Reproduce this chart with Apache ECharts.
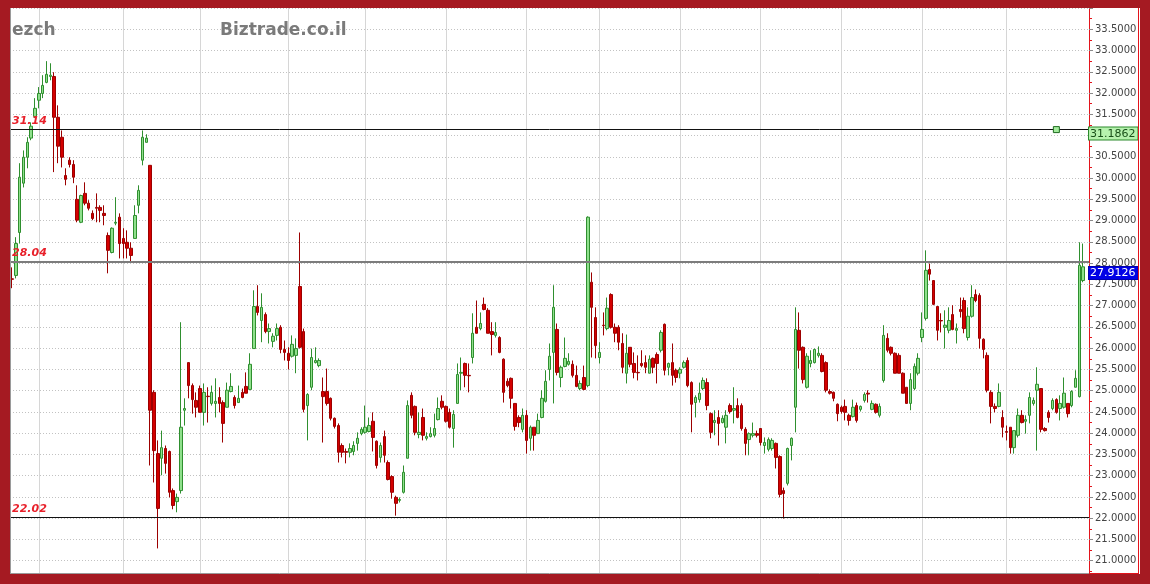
<!DOCTYPE html>
<html>
<head>
<meta charset="utf-8">
<title>ezch</title>
<script src="https://cdn.jsdelivr.net/npm/echarts@6/dist/echarts.min.js"></script>
<style>
html, body { margin: 0; padding: 0; background: #fff; }
#chart { width: 1150px; height: 584px; }
</style>
</head>
<body>
<div id="chart"></div>
<script>
// daily candles
var opens = [
	27.63, 27.71, 28.72, 29.88, 30.49, 30.94, 31.45, 31.83, 31.99, 32.25,
	32.39, 32.39, 31.43, 30.96, 30.06, 30.42, 30.32, 29.50, 28.96, 29.64,
	29.41, 29.17, 29.31, 29.31, 29.17, 28.65, 28.25, 28.94, 29.08, 28.58,
	28.49, 28.35, 28.58, 29.36, 30.42, 30.84, 30.30, 24.96, 23.52, 23.41,
	23.64, 23.57, 22.65, 22.39, 22.65, 24.54, 25.66, 25.12, 24.77, 25.05,
	24.49, 24.87, 24.70, 24.70, 24.84, 24.72, 24.61, 24.98, 24.84, 24.72,
	24.96, 25.10, 25.03, 25.99, 26.98, 26.65, 26.79, 26.39, 26.16, 26.30,
	26.49, 25.97, 25.88, 25.81, 25.83, 27.45, 26.39, 24.65, 25.08, 25.66,
	25.59, 24.98, 24.98, 24.82, 24.35, 24.18, 23.71, 23.57, 23.55, 23.57,
	23.76, 23.99, 24.02, 24.04, 24.28, 23.81, 23.43, 23.92, 23.31, 22.98,
	22.49, 22.42, 22.61, 23.41, 24.89, 24.63, 23.97, 24.37, 23.88, 23.92,
	23.95, 24.32, 24.75, 24.63, 24.49, 24.11, 24.70, 25.41, 25.64, 25.36,
	25.78, 26.49, 26.46, 27.03, 26.89, 26.39, 26.30, 26.25, 25.74, 25.22,
	25.29, 24.70, 24.37, 24.09, 24.42, 23.88, 24.14, 23.99, 24.37, 24.75,
	25.50, 25.90, 26.44, 25.31, 25.57, 25.62, 25.62, 25.36, 25.05, 25.31,
	25.12, 27.55, 26.72, 25.78, 26.54, 26.46, 27.26, 26.49, 26.49, 26.11,
	25.41, 26.02, 25.64, 25.43, 25.64, 25.66, 25.41, 25.76, 25.85, 25.95,
	26.56, 25.55, 25.66, 25.48, 25.41, 25.55, 25.71, 25.19, 24.72, 24.79,
	25.05, 25.19, 24.46, 24.25, 24.37, 24.25, 24.14, 24.65, 24.54, 24.65,
	24.65, 24.09, 23.85, 23.95, 23.99, 24.11, 23.71, 23.62, 23.64, 23.76,
	23.45, 22.65, 22.82, 23.71, 24.61, 26.42, 26.02, 25.08, 25.64, 25.66,
	25.83, 25.83, 25.66, 24.98, 24.96, 24.68, 24.61, 24.63, 24.42, 24.39,
	24.65, 24.56, 24.77, 24.94, 24.56, 24.68, 24.42, 25.24, 26.23, 26.02,
	25.88, 25.83, 25.41, 25.08, 24.70, 25.05, 25.41, 26.25, 26.70, 27.85,
	27.59, 26.98, 26.65, 26.49, 26.42, 26.79, 26.42, 26.91, 27.12, 26.25,
	26.75, 27.26, 27.24, 26.21, 25.83, 24.96, 24.63, 24.63, 24.37, 24.04,
	24.14, 23.66, 23.95, 24.42, 24.28, 24.42, 24.70, 25.01, 25.05, 24.11,
	24.49, 24.58, 24.79, 24.58, 24.61, 24.70, 24.65, 25.08, 24.86, 27.59
];
var closes = [
	27.62, 28.46, 30.02, 30.49, 30.84, 31.22, 31.64, 31.99, 32.18, 32.44,
	32.42, 31.43, 30.75, 30.49, 29.97, 30.32, 30.02, 29.01, 29.59, 29.41,
	29.29, 29.05, 29.29, 29.24, 29.12, 28.30, 28.82, 28.96, 28.46, 28.46,
	28.35, 28.18, 29.12, 29.71, 30.96, 30.94, 24.54, 23.59, 22.23, 23.66,
	23.29, 22.61, 22.30, 22.49, 24.14, 24.58, 25.12, 24.79, 24.61, 24.49,
	24.96, 24.86, 24.96, 24.75, 24.70, 24.23, 25.01, 25.10, 24.65, 24.82,
	24.84, 24.94, 25.62, 26.98, 26.84, 26.96, 26.39, 26.46, 26.28, 26.46,
	25.97, 25.90, 25.71, 26.09, 25.99, 26.02, 24.56, 24.91, 25.78, 25.71,
	25.71, 24.86, 24.70, 24.35, 24.16, 23.55, 23.55, 23.55, 23.64, 23.71,
	23.88, 24.09, 24.14, 24.18, 23.90, 23.24, 23.71, 23.48, 22.91, 22.61,
	22.35, 22.44, 23.08, 24.65, 24.42, 24.02, 24.02, 23.95, 23.92, 23.99,
	24.11, 24.58, 24.61, 24.28, 24.14, 24.44, 25.38, 25.43, 25.36, 25.35,
	26.35, 26.35, 26.58, 26.91, 26.35, 26.32, 26.37, 25.90, 24.96, 25.12,
	24.82, 24.16, 24.25, 24.42, 23.83, 24.14, 23.95, 24.30, 24.82, 25.22,
	25.81, 26.96, 25.43, 25.55, 25.76, 25.69, 25.36, 25.10, 25.17, 25.03,
	29.08, 26.96, 26.06, 25.90, 26.53, 26.94, 26.49, 26.35, 26.14, 25.55,
	25.88, 25.62, 25.43, 25.42, 25.59, 25.55, 25.74, 25.55, 25.64, 26.37,
	25.48, 25.64, 25.36, 25.31, 25.50, 25.66, 25.12, 24.68, 24.84, 24.94,
	25.24, 24.65, 24.02, 24.30, 24.23, 24.35, 24.42, 24.51, 24.58, 24.37,
	24.11, 23.76, 23.99, 23.99, 23.95, 23.78, 23.78, 23.85, 23.83, 23.43,
	22.56, 22.58, 23.64, 23.88, 26.44, 25.95, 25.26, 25.81, 25.71, 25.97,
	25.88, 25.45, 25.01, 24.94, 24.82, 24.46, 24.51, 24.49, 24.30, 24.61,
	24.30, 24.63, 24.91, 24.92, 24.70, 24.49, 24.63, 26.30, 25.95, 25.88,
	25.41, 25.41, 24.94, 24.70, 25.26, 25.57, 25.76, 26.44, 27.83, 27.74,
	27.03, 26.42, 26.64, 26.54, 26.65, 26.44, 26.46, 26.86, 26.46, 26.75,
	27.19, 27.12, 26.23, 25.97, 25.01, 24.63, 24.58, 24.96, 24.14, 24.02,
	23.66, 24.06, 24.42, 24.25, 24.32, 24.84, 24.77, 25.15, 24.09, 24.06,
	24.37, 24.77, 24.49, 24.70, 24.94, 24.46, 24.98, 25.29, 27.95, 27.9126
];
var lows = [
	27.41, 27.64, 28.46, 29.78, 30.23, 30.89, 31.41, 31.64, 31.88, 32.23,
	32.30, 30.14, 30.35, 30.25, 29.83, 30.25, 29.88, 28.96, 28.94, 29.36,
	29.24, 29.01, 28.96, 28.96, 28.89, 27.76, 28.23, 28.89, 28.11, 28.11,
	28.11, 28.02, 28.58, 29.17, 30.30, 30.84, 23.24, 22.84, 21.29, 23.01,
	23.05, 22.49, 22.21, 22.14, 22.58, 24.18, 24.82, 24.46, 24.37, 24.49,
	24.18, 24.25, 24.65, 24.37, 24.49, 23.78, 24.61, 24.96, 24.58, 24.72,
	24.82, 24.94, 25.01, 25.99, 26.77, 26.14, 26.35, 26.11, 26.02, 26.18,
	25.88, 25.71, 25.50, 25.78, 25.41, 25.99, 24.49, 23.83, 25.01, 25.64,
	25.55, 23.78, 24.65, 24.30, 24.11, 23.31, 23.43, 23.29, 23.43, 23.48,
	23.59, 23.95, 23.99, 24.02, 23.57, 23.17, 23.31, 23.31, 22.89, 22.46,
	22.06, 22.37, 22.58, 23.41, 24.35, 23.95, 23.88, 23.83, 23.83, 23.90,
	23.90, 24.30, 24.56, 24.25, 24.11, 23.66, 24.70, 25.01, 25.08, 24.96,
	25.64, 26.35, 26.42, 26.89, 26.35, 25.83, 26.25, 25.88, 24.72, 25.08,
	24.58, 24.06, 24.14, 24.02, 23.52, 23.59, 23.59, 23.99, 24.35, 24.72,
	25.24, 24.70, 25.36, 25.08, 25.55, 25.59, 25.31, 25.08, 25.01, 25.01,
	25.08, 25.78, 25.76, 25.64, 26.30, 26.42, 26.46, 26.14, 25.95, 25.41,
	25.17, 25.55, 25.29, 25.24, 25.55, 25.41, 25.41, 25.41, 25.17, 25.90,
	25.36, 25.36, 25.12, 25.19, 25.29, 25.52, 25.08, 24.02, 24.37, 24.72,
	25.01, 24.54, 23.88, 23.95, 23.71, 24.23, 23.76, 24.46, 24.23, 24.35,
	24.06, 23.48, 23.48, 23.90, 23.90, 23.71, 23.52, 23.57, 23.59, 23.17,
	22.49, 21.99, 22.77, 23.36, 24.02, 25.52, 25.17, 25.05, 25.55, 25.64,
	25.78, 25.43, 24.96, 24.91, 24.75, 24.28, 24.46, 24.30, 24.18, 24.37,
	24.25, 24.51, 24.72, 24.72, 24.54, 24.46, 24.37, 25.19, 25.90, 25.83,
	25.41, 25.41, 24.94, 24.70, 24.54, 25.01, 25.36, 26.14, 26.65, 27.59,
	27.01, 26.18, 26.37, 25.99, 26.35, 26.42, 26.11, 26.72, 26.35, 26.18,
	26.72, 27.08, 25.99, 25.76, 24.96, 24.23, 24.49, 24.61, 23.90, 23.83,
	23.52, 23.52, 23.90, 24.23, 23.99, 24.23, 24.65, 23.59, 24.02, 24.04,
	24.25, 24.54, 24.46, 24.30, 24.58, 24.37, 24.61, 25.08, 24.84, 27.55
];
var highs = [
	27.90, 28.61, 30.35, 30.65, 30.96, 31.31, 31.88, 32.14, 32.42, 32.75,
	32.70, 32.49, 31.71, 31.12, 30.23, 30.49, 30.42, 29.83, 29.61, 29.90,
	29.48, 29.24, 29.64, 29.36, 29.36, 28.72, 28.84, 29.55, 29.17, 28.82,
	28.77, 28.49, 29.36, 29.83, 31.12, 31.03, 30.30, 25.01, 23.83, 24.06,
	23.71, 23.59, 22.70, 22.58, 26.61, 24.82, 25.66, 25.17, 24.96, 25.12,
	25.17, 25.08, 25.12, 25.29, 25.08, 24.77, 25.19, 25.41, 24.89, 25.12,
	25.05, 25.43, 25.88, 27.36, 27.48, 27.29, 26.84, 26.58, 26.35, 26.58,
	26.54, 26.18, 26.02, 26.30, 26.23, 28.72, 26.46, 24.94, 25.99, 26.02,
	25.76, 25.31, 25.52, 24.84, 24.37, 24.23, 23.76, 23.64, 23.76, 23.81,
	24.02, 24.14, 24.65, 24.37, 24.49, 23.83, 23.78, 24.06, 23.36, 23.01,
	22.53, 22.49, 23.24, 24.77, 24.96, 24.65, 24.49, 24.58, 24.02, 24.14,
	24.46, 24.84, 24.89, 24.65, 24.58, 24.54, 25.64, 25.78, 25.66, 25.64,
	26.82, 27.12, 26.84, 27.19, 26.94, 26.61, 26.61, 26.28, 25.76, 25.29,
	25.31, 24.70, 24.42, 24.58, 24.54, 24.18, 24.14, 24.46, 25.01, 25.48,
	26.11, 27.48, 26.58, 25.59, 26.25, 25.88, 25.71, 25.59, 25.24, 25.59,
	29.10, 27.78, 26.96, 26.14, 26.84, 27.19, 27.29, 26.58, 26.54, 26.35,
	26.32, 26.02, 25.90, 25.83, 25.95, 25.83, 25.83, 25.78, 25.90, 26.42,
	26.58, 25.66, 26.11, 25.52, 25.55, 25.71, 25.78, 25.22, 24.89, 25.19,
	25.31, 25.29, 24.49, 24.54, 24.54, 24.42, 24.54, 24.70, 25.08, 24.82,
	24.70, 24.14, 24.02, 24.25, 24.06, 24.11, 23.90, 23.90, 23.88, 23.78,
	23.48, 22.72, 23.66, 23.90, 26.96, 26.84, 26.04, 25.88, 25.95, 25.99,
	26.04, 25.88, 25.69, 25.03, 24.98, 24.70, 24.65, 24.79, 24.46, 24.79,
	24.72, 24.65, 24.96, 25.01, 24.77, 24.70, 24.70, 26.54, 26.35, 26.04,
	25.90, 25.88, 25.43, 25.08, 25.41, 25.64, 25.88, 26.84, 28.30, 27.99,
	27.59, 26.98, 26.82, 26.89, 26.96, 27.01, 26.58, 27.19, 27.19, 26.96,
	27.48, 27.38, 27.29, 26.23, 25.90, 25.01, 24.70, 25.17, 24.54, 24.18,
	24.14, 24.06, 24.58, 24.54, 24.42, 24.96, 24.84, 25.55, 25.05, 24.14,
	24.54, 24.82, 24.82, 24.89, 25.31, 24.70, 25.01, 25.48, 28.49, 28.46
];

// index of the first candle of each month (vertical grid lines)
var monthStarts = [7, 29, 49, 72, 92, 113, 134, 153, 174, 195, 216, 237, 259];

// horizontal levels drawn on the chart
var levelHigh = 31.14;
var levelMid = 28.04;
var levelLow = 22.02;
var markerValue = 31.1862;
var markerIndex = 272;
var lastPrice = 27.9126;

// one empty slot at the end, as in the original chart
var categories = opens.map(function (o, i) { return String(i + 1); });
categories.push('');

var FRAME = '#a51a22';
var AXISRED = '#e3141c';

var candles = opens.map(function (o, i) {
	return [o, closes[i], lows[i], highs[i]];
});

function levelLine(v, color, width) {
	return {
		yAxis: v,
		lineStyle: { color: color, width: width, type: 'solid' },
		label: {
			show: true,
			position: 'insideStartTop',
			formatter: v.toFixed(2),
			color: '#e8202a',
			fontStyle: 'italic',
			fontWeight: 'bold',
			fontSize: 11,
			fontFamily: 'DejaVu Sans',
			distance: [2, 3]
		}
	};
}

function priceTag(v, bg, border, fg) {
	return {
		yAxis: v,
		lineStyle: { color: 'rgba(0,0,0,0)', width: 1 },
		label: {
			show: true,
			position: 'end',
			distance: 0,
			formatter: v.toFixed(4),
			backgroundColor: bg,
			borderColor: border,
			borderWidth: 1,
			color: fg,
			fontSize: 11,
			fontFamily: 'DejaVu Sans',
			padding: [1, 2, 0, 1],
			verticalAlign: 'top'
		}
	};
}

var myChart = echarts.init(document.getElementById('chart'));

var option = {
	animation: false,
	backgroundColor: '#ffffff',
	title: [
		{ text: 'ezch', left: 12, top: 22, padding: 0,
			textStyle: { color: '#7a7a7a', fontSize: 17, fontWeight: 'bold', fontFamily: 'DejaVu Sans' } },
		{ text: 'Biztrade.co.il', left: 220, top: 22, padding: 0,
			textStyle: { color: '#7a7a7a', fontSize: 17, fontWeight: 'bold', fontFamily: 'DejaVu Sans' } }
	],
	grid: { left: 10, right: 61, top: 8, bottom: 2 },
	xAxis: {
		type: 'category',
		data: categories,
		boundaryGap: true,
		axisLine: { show: false },
		axisTick: { show: false },
		axisLabel: { show: false },
		splitLine: {
			show: true,
			alignWithLabel: true,
			interval: function (i) { return monthStarts.indexOf(i) >= 0; },
			lineStyle: { color: '#d6d6d6', width: 1 }
		}
	},
	yAxis: {
		type: 'value',
		position: 'right',
		min: 20.5,
		max: 34,
		interval: 0.5,
		axisLine: { show: true, lineStyle: { color: AXISRED, width: 1 } },
		axisTick: { show: true, length: 4, lineStyle: { color: '#8a8a8a' } },
		minorTick: { show: true, splitNumber: 2, length: 3, lineStyle: { color: AXISRED } },
		axisLabel: {
			margin: 6,
			color: '#444',
			fontSize: 10,
			fontFamily: 'DejaVu Sans',
			formatter: function (v) {
				if (v < 20.9 || v > 33.6) return '';
				return v.toFixed(4);
			}
		},
		splitLine: { show: true, lineStyle: { color: '#c2c2c2', type: [1, 2] } }
	},
	series: [{
		type: 'candlestick',
		data: candles,
		barWidth: 3,
		itemStyle: {
			color: '#8fe08c',
			color0: '#d40000',
			borderColor: '#2f8f2f',
			borderColor0: '#9c0000',
			borderWidth: 1
		},
		markLine: {
			symbol: 'none',
			silent: true,
			animation: false,
			data: [
				levelLine(levelHigh, '#111111', 1),
				levelLine(levelMid, '#7c7c7c', 2),
				levelLine(levelLow, '#111111', 1),
				priceTag(markerValue, '#b6f2ae', '#2d8a2d', '#184f18'),
				priceTag(lastPrice, '#0000e6', '#0000b0', '#ffffff')
			]
		},
		markPoint: {
			symbol: 'rect',
			symbolSize: 6,
			silent: true,
			label: { show: false },
			itemStyle: { color: '#a2eb9c', borderColor: '#1f6a1f', borderWidth: 1 },
			data: [{ coord: [categories[markerIndex], levelHigh] }]
		}
	}],
	// the dark red frame round the chart
	graphic: [
		{ type: 'line', z: 90, shape: { x1: 10.5, y1: 8, x2: 10.5, y2: 574 }, style: { stroke: '#9a9a9a', lineWidth: 1 } },
		{ type: 'line', z: 90, shape: { x1: 10, y1: 573.5, x2: 1089, y2: 573.5 }, style: { stroke: '#9a9a9a', lineWidth: 1 } },
		{ type: 'line', z: 90, shape: { x1: 1089, y1: 573.5, x2: 1139, y2: 573.5 }, style: { stroke: AXISRED, lineWidth: 1 } },
		{ type: 'line', z: 90, shape: { x1: 1138.5, y1: 8, x2: 1138.5, y2: 574 }, style: { stroke: AXISRED, lineWidth: 1 } },
		{ type: 'rect', z: 100, shape: { x: 0, y: 0, width: 1150, height: 8 }, style: { fill: FRAME } },
		{ type: 'rect', z: 100, shape: { x: 0, y: 0, width: 10, height: 584 }, style: { fill: FRAME } },
		{ type: 'rect', z: 100, shape: { x: 1140, y: 0, width: 10, height: 584 }, style: { fill: FRAME } },
		{ type: 'rect', z: 100, shape: { x: 0, y: 574, width: 1150, height: 10 }, style: { fill: FRAME } }
	]
};

myChart.setOption(option);
</script>
</body>
</html>
